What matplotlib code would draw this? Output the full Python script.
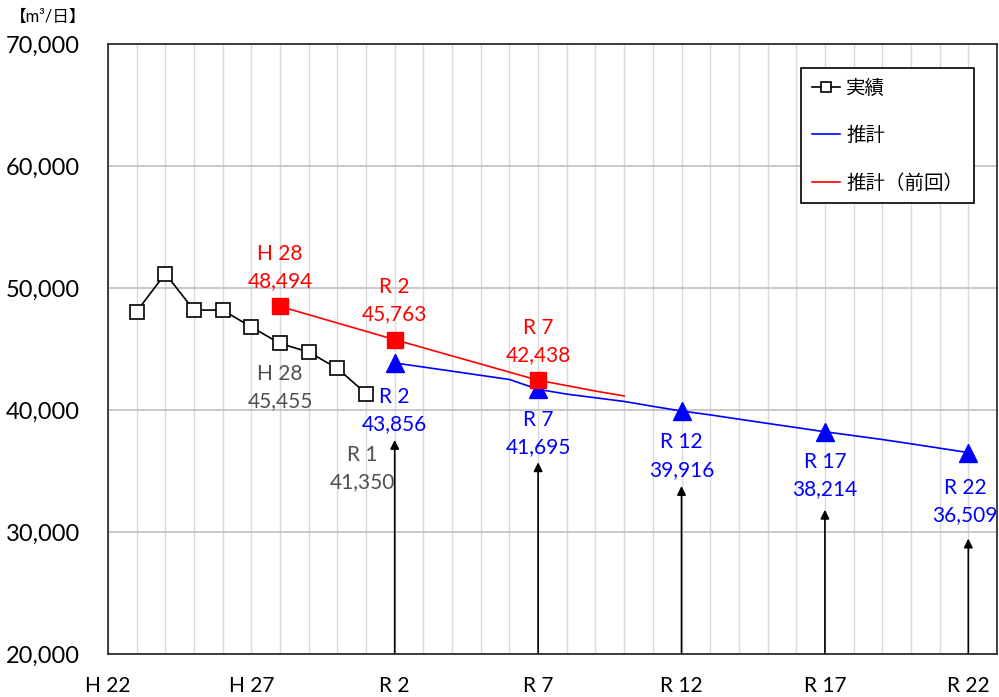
import matplotlib.pyplot as plt
from matplotlib.transforms import offset_copy

plt.rcParams['font.family'] = ['Lato', 'Noto Sans CJK JP', 'DejaVu Sans']

# actual (H23 - R1)
actual_years = list(range(2011, 2020))
actual_vals = [48060, 51180, 48190, 48190, 46800, 45455, 44750, 43410, 41350]

# forecast (R2 - R22)
fc_years = list(range(2020, 2041))
fc_vals = [43856, 43520, 43180, 42840, 42500, 41695, 41300, 41000, 40700, 40300,
           39916, 39600, 39250, 38900, 38560, 38214, 37900, 37580, 37230, 36870,
           36509]

# previous forecast (H28 - R10)
prev_years = list(range(2016, 2029))
prev_vals = [48494, 47810, 47130, 46450, 45763, 45100, 44430, 43770, 43100,
             42438, 42000, 41550, 41150]

tick_years = [2010, 2015, 2020, 2025, 2030, 2035, 2040]
tick_labels = ['H 22', 'H 27', 'R 2', 'R 7', 'R 12', 'R 17', 'R 22']

# labelled points: (year, value, era label)
actual_marks = [(2016, 45455, 'H 28'), (2019, 41350, 'R 1')]
fc_marks = [(2020, 43856, 'R 2'), (2025, 41695, 'R 7'), (2030, 39916, 'R 12'),
            (2035, 38214, 'R 17'), (2040, 36509, 'R 22')]
prev_marks = [(2016, 48494, 'H 28'), (2020, 45763, 'R 2'), (2025, 42438, 'R 7')]

fig = plt.figure(figsize=(9.99, 6.97), dpi=100)
ax = fig.add_axes([0.108, 0.0617, 0.890, 0.8752])

red = '#ff0000'
blue = '#0000ff'

ax.plot(actual_years, actual_vals, color='black', lw=1.2, marker='s', ms=10,
        mfc='white', mec='black', mew=1.2, label='実績', zorder=4)
ax.plot(fc_years, fc_vals, color=blue, lw=1.2, label='推計', zorder=3)
ax.plot(prev_years, prev_vals, color=red, lw=1.2, label='推計（前回）', zorder=3)

# highlighted markers
ax.plot([m[0] for m in fc_marks], [m[1] for m in fc_marks], ls='none',
        marker='^', ms=13, color=blue, zorder=5)
ax.plot([m[0] for m in prev_marks], [m[1] for m in prev_marks], ls='none',
        marker='s', ms=11, color=red, zorder=5)

# labels
def label(x, y, era, color, dy, dx=0):
    ax.annotate(f'{era}\n{y:,}', (x, y), xytext=(dx, dy), textcoords='offset pixels',
                ha='center', va='center', color=color, fontsize=15,
                linespacing=1.45, zorder=6)

for x, y, era in prev_marks:
    label(x, y, era, red, 39)
label(actual_marks[0][0], actual_marks[0][1], actual_marks[0][2], '#505050', -44)
label(actual_marks[1][0], actual_marks[1][1], actual_marks[1][2], '#505050', -75, -4)
fc_dy = [-48, -44, -45, -44, -49]
fc_dx = [0, 0, 0, 0, -3]
for (x, y, era), dy, dx in zip(fc_marks, fc_dy, fc_dx):
    label(x, y, era, blue, dy, dx)

# arrows from the axis up to the forecast labels
tip_dy = [-77, -73, -75, -78, -86]
for (x, y, era), dy in zip(fc_marks, tip_dy):
    tr = offset_copy(ax.transData, fig=fig, x=0, y=dy, units='dots')
    ax.annotate('', xy=(x, y), xycoords=tr, xytext=(x, 20000), textcoords='data',
                arrowprops=dict(arrowstyle='-|>', color='black', lw=1.2,
                                mutation_scale=13, shrinkA=0, shrinkB=0),
                zorder=2)

ax.set_xlim(2010, 2041)
ax.set_ylim(20000, 70000)
ax.set_xticks(tick_years)
ax.set_xticklabels(tick_labels)
ax.set_xticks(range(2010, 2042), minor=True)
ax.set_yticks(range(20000, 70001, 10000))
ax.yaxis.set_major_formatter(lambda v, p: f'{int(v):,}')
ax.tick_params(axis='both', which='both', length=0)
ax.tick_params(axis='x', labelsize=15, pad=16)
ax.tick_params(axis='y', labelsize=17, pad=20)

ax.grid(axis='x', which='minor', color='#d9d9d9', lw=1)
ax.grid(axis='x', which='major', color='#d9d9d9', lw=1)
ax.grid(axis='y', which='major', color='#c0c0c0', lw=1.2)
ax.set_axisbelow(True)
for s in ax.spines.values():
    s.set_color('#303030')
    s.set_linewidth(1.3)

fig.text(0.010, 0.975, '【m³/日】', fontsize=12, va='center', ha='left')

leg = ax.legend(loc='upper right', bbox_to_anchor=(0.974, 0.961), borderaxespad=0,
                fontsize=14, frameon=True, fancybox=False, edgecolor='black',
                framealpha=1, labelspacing=1.5, handlelength=1.45,
                handletextpad=0.3, borderpad=0.55, markerscale=0.7)
leg.get_frame().set_linewidth(1.2)

fig.savefig('out.png', dpi=100)
